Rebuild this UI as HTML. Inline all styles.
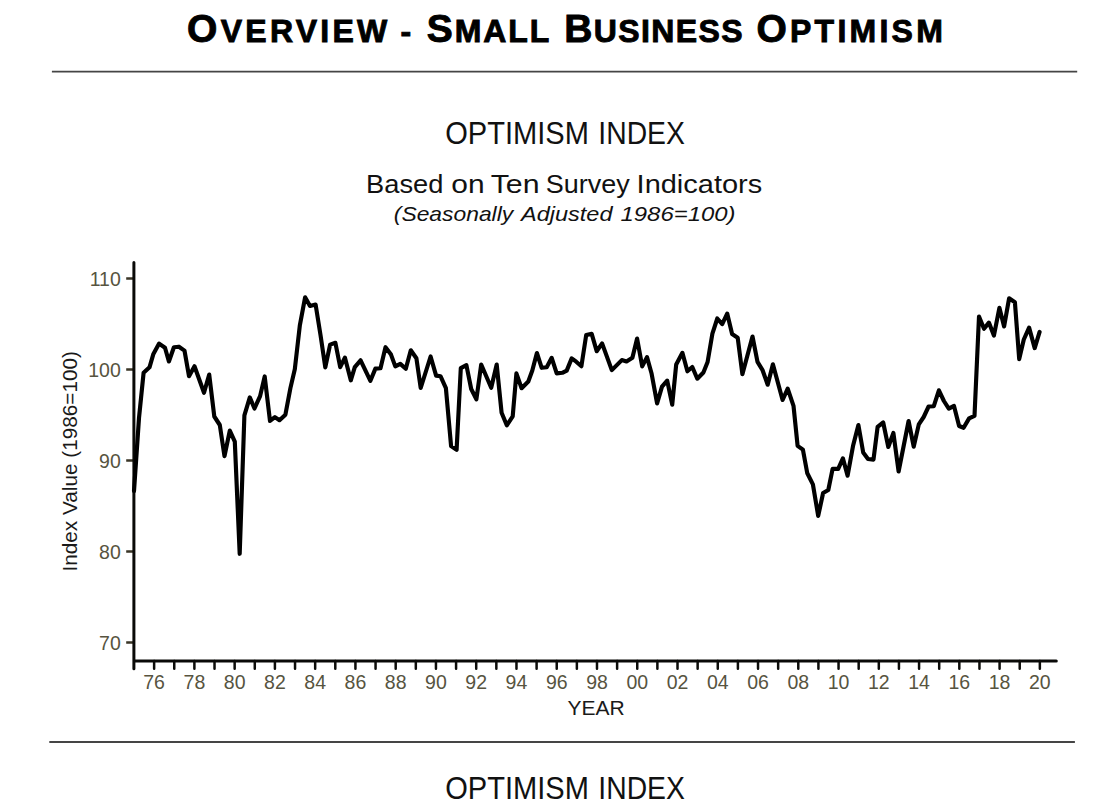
<!DOCTYPE html>
<html><head><meta charset="utf-8">
<style>
html,body{margin:0;padding:0;background:#fff;}
body{width:1105px;height:809px;overflow:hidden;position:relative;}
svg{position:absolute;left:0;top:0;}
.t{font-family:"Liberation Sans",Arial,sans-serif;}
.o{font-family:"Liberation Sans",sans-serif;}
</style></head><body>
<svg width="1105" height="809" viewBox="0 0 1105 809">
<g font-family="Liberation Sans" font-weight="bold" fill="#000" stroke="#000" stroke-width="0.9"><text x="187.10" y="41.8" textLength="200.10" lengthAdjust="spacing"><tspan font-size="39">O</tspan><tspan font-size="32">VERVIEW</tspan></text><text x="400.50" y="41.8"><tspan font-size="32">-</tspan></text><text x="426.80" y="41.8" textLength="122.40" lengthAdjust="spacing"><tspan font-size="39">S</tspan><tspan font-size="32">MALL</tspan></text><text x="564.20" y="41.8" textLength="178.50" lengthAdjust="spacing"><tspan font-size="39">B</tspan><tspan font-size="32">USINESS</tspan></text><text x="756.40" y="41.8" textLength="186.40" lengthAdjust="spacing"><tspan font-size="39">O</tspan><tspan font-size="32">PTIMISM</tspan></text></g>
<line x1="51.9" y1="71.7" x2="1077.2" y2="71.7" stroke="#454545" stroke-width="1.8"/>
<line x1="49.3" y1="742" x2="1074.9" y2="742" stroke="#454545" stroke-width="1.8"/>
<g class="o" fill="#111">
<text x="445.2" y="144" font-size="30.5" textLength="143.80" lengthAdjust="spacingAndGlyphs">OPTIMISM</text> <text x="598.3000000000001" y="144" font-size="30.5" textLength="86.60" lengthAdjust="spacingAndGlyphs">INDEX</text>
<text x="366.10" y="192.6" font-size="25.4" textLength="77.30" lengthAdjust="spacingAndGlyphs">Based</text> <text x="451.30" y="192.6" font-size="25.4" textLength="33.30" lengthAdjust="spacingAndGlyphs">on</text> <text x="490.70" y="192.6" font-size="25.4" textLength="48.80" lengthAdjust="spacingAndGlyphs">Ten</text> <text x="545.80" y="192.6" font-size="25.4" textLength="84.00" lengthAdjust="spacingAndGlyphs">Survey</text> <text x="636.60" y="192.6" font-size="25.4" textLength="125.60" lengthAdjust="spacingAndGlyphs">Indicators</text> <text x="393.80" y="220.7" font-size="21" font-style="italic" textLength="119.40" lengthAdjust="spacingAndGlyphs">(Seasonally</text> <text x="521.00" y="220.7" font-size="21" font-style="italic" textLength="91.50" lengthAdjust="spacingAndGlyphs">Adjusted</text> <text x="620.50" y="220.7" font-size="21" font-style="italic" textLength="115.00" lengthAdjust="spacingAndGlyphs">1986=100)</text>

<text x="445.2" y="799" font-size="30.5" textLength="143.80" lengthAdjust="spacingAndGlyphs">OPTIMISM</text> <text x="598.3000000000001" y="799" font-size="30.5" textLength="86.60" lengthAdjust="spacingAndGlyphs">INDEX</text>
</g>
<g class="t" fill="#57543f" font-size="19.5">
<text x="154.13" y="688.8" text-anchor="middle">76</text><text x="194.39" y="688.8" text-anchor="middle">78</text><text x="234.65" y="688.8" text-anchor="middle">80</text><text x="274.91" y="688.8" text-anchor="middle">82</text><text x="315.17" y="688.8" text-anchor="middle">84</text><text x="355.43" y="688.8" text-anchor="middle">86</text><text x="395.69" y="688.8" text-anchor="middle">88</text><text x="435.95" y="688.8" text-anchor="middle">90</text><text x="476.21" y="688.8" text-anchor="middle">92</text><text x="516.47" y="688.8" text-anchor="middle">94</text><text x="556.73" y="688.8" text-anchor="middle">96</text><text x="596.99" y="688.8" text-anchor="middle">98</text><text x="637.25" y="688.8" text-anchor="middle">00</text><text x="677.51" y="688.8" text-anchor="middle">02</text><text x="717.77" y="688.8" text-anchor="middle">04</text><text x="758.03" y="688.8" text-anchor="middle">06</text><text x="798.29" y="688.8" text-anchor="middle">08</text><text x="838.55" y="688.8" text-anchor="middle">10</text><text x="878.81" y="688.8" text-anchor="middle">12</text><text x="919.07" y="688.8" text-anchor="middle">14</text><text x="959.33" y="688.8" text-anchor="middle">16</text><text x="999.59" y="688.8" text-anchor="middle">18</text><text x="1039.85" y="688.8" text-anchor="middle">20</text>
<text x="120.8" y="286.30" text-anchor="end">110</text><text x="120.8" y="377.30" text-anchor="end">100</text><text x="120.8" y="468.30" text-anchor="end">90</text><text x="120.8" y="559.30" text-anchor="end">80</text><text x="120.8" y="650.30" text-anchor="end">70</text>
</g>
<g class="t" fill="#1a1a1a" font-size="21">
<text x="596" y="714.8" text-anchor="middle">YEAR</text>
<text transform="translate(76.6 461.3) rotate(-90)" text-anchor="middle" font-size="20.75">Index Value (1986=100)</text>
</g>
<path d="M126.2 278.50 H133.9 M126.2 369.50 H133.9 M126.2 460.50 H133.9 M126.2 551.50 H133.9 M126.2 642.50 H133.9" stroke="#3a3526" stroke-width="2.7" fill="none"/>
<path d="M154.13 661 V668.8 M174.26 661 V668.8 M194.39 661 V668.8 M214.52 661 V668.8 M234.65 661 V668.8 M254.78 661 V668.8 M274.91 661 V668.8 M295.04 661 V668.8 M315.17 661 V668.8 M335.30 661 V668.8 M355.43 661 V668.8 M375.56 661 V668.8 M395.69 661 V668.8 M415.82 661 V668.8 M435.95 661 V668.8 M456.08 661 V668.8 M476.21 661 V668.8 M496.34 661 V668.8 M516.47 661 V668.8 M536.60 661 V668.8 M556.73 661 V668.8 M576.86 661 V668.8 M596.99 661 V668.8 M617.12 661 V668.8 M637.25 661 V668.8 M657.38 661 V668.8 M677.51 661 V668.8 M697.64 661 V668.8 M717.77 661 V668.8 M737.90 661 V668.8 M758.03 661 V668.8 M778.16 661 V668.8 M798.29 661 V668.8 M818.42 661 V668.8 M838.55 661 V668.8 M858.68 661 V668.8 M878.81 661 V668.8 M898.94 661 V668.8 M919.07 661 V668.8 M939.20 661 V668.8 M959.33 661 V668.8 M979.46 661 V668.8 M999.59 661 V668.8 M1019.72 661 V668.8 M1039.85 661 V668.8" stroke="#0d0d0a" stroke-width="2.5" stroke-linecap="round" fill="none"/>
<path d="M133.9 262.4 V668.8 M133.9 661 H1056.3" stroke="#0a0a08" stroke-width="3.0" stroke-linecap="round" fill="none"/>
<path d="M134 491 L139 418 L143.6 372.8 L149.5 367.3 L153.4 353.9 L159.1 343.6 L165 347.8 L168.9 361.5 L173.9 347.2 L178.9 346.7 L184.5 350.6 L189 376.2 L194.5 366.2 L204 392.8 L209.2 374.5 L214.3 416.5 L219.8 425 L224.5 456.2 L229.8 430.6 L234.8 441.7 L239.7 553.8 L244.4 415.3 L249.8 397.4 L254.5 408.5 L260.1 396.1 L264.7 376.4 L270 420.9 L274.9 417.1 L279.5 420.2 L285.4 414.7 L290.4 388.1 L294.8 369.3 L299.8 325.7 L305.1 297.3 L310 306 L315.6 304.5 L320.5 335 L325.3 367.4 L330.1 344.6 L335.4 342.8 L340.2 367.1 L344.9 357.6 L350.8 380.3 L354.8 367.1 L360.6 360.3 L370.4 380.8 L375.4 368.6 L380.5 368.3 L385.5 347.2 L391 354.6 L395.3 366.4 L400.3 363.9 L405.8 368.8 L410.8 350.3 L416.4 358.3 L420.7 388 L430.6 356.5 L436.1 375.6 L440.6 376.3 L445.9 388.2 L451.1 446.1 L456.6 449.8 L460.8 368.2 L466.4 365.2 L471.2 389 L476.4 399.3 L481.2 364.5 L491.2 387.8 L496.7 364.5 L501.6 412.7 L506.8 425.3 L512.7 416.4 L516.4 373.4 L521.6 388.2 L528.3 381.5 L532.3 370.5 L536.9 353 L541.7 367.8 L546.7 367.3 L551.7 357.8 L556.7 373.4 L562.3 372.8 L566.7 370.6 L571.7 358.4 L576.2 361.7 L581.4 366.2 L586.2 335 L591.7 333.9 L596.7 351.2 L602.1 343.4 L611.8 370.1 L621.8 360.1 L626.5 361.5 L632.4 357.7 L637.1 338.5 L642.2 366.4 L647 357.1 L651.5 373.2 L657.1 403.4 L662 386.7 L667.2 380.6 L672.2 404.7 L676.2 364.5 L682.4 352.8 L687.4 371.3 L692.3 367 L697.3 378.7 L703.4 372.5 L707.6 362 L712.4 333.6 L717.3 318.5 L722.2 324.1 L727.2 313.6 L732.1 334 L737.7 337.7 L742.4 374.2 L752.5 336.5 L757.5 361.8 L762.4 369.8 L767.7 384.7 L772.9 364.3 L782.6 400 L787.7 388.7 L793.5 405.8 L797.6 445.8 L802.9 449.7 L807.3 473.3 L812.9 484.4 L818.2 515.9 L823.1 493 L828.3 490 L832.6 468.9 L838.2 468.9 L842.9 458.4 L847.6 475.7 L853 446.1 L858.4 425 L863.2 452.5 L868 459 L873.5 459.6 L877.6 426.9 L883.2 422.5 L888.3 447 L893.4 433 L898.6 471.5 L908.6 421 L913.7 446.7 L918.8 424.4 L923.7 417 L928.6 406.5 L933.8 406.2 L938.9 390.3 L943.9 401 L948.8 408.7 L954 405.9 L959.1 426 L963.6 427.8 L969.1 418.4 L974.5 415.9 L979 316.5 L984 328.8 L988.9 322.6 L993.9 335.6 L999.4 307.8 L1004.1 326.4 L1009.1 298.3 L1014.9 302.2 L1019.2 359.1 L1023.8 339.5 L1029.1 327.6 L1034.7 348.1 L1039.6 331.9" stroke="#000" stroke-width="4.15" fill="none" stroke-linejoin="round" stroke-linecap="round"/>
</svg>
</body></html>
